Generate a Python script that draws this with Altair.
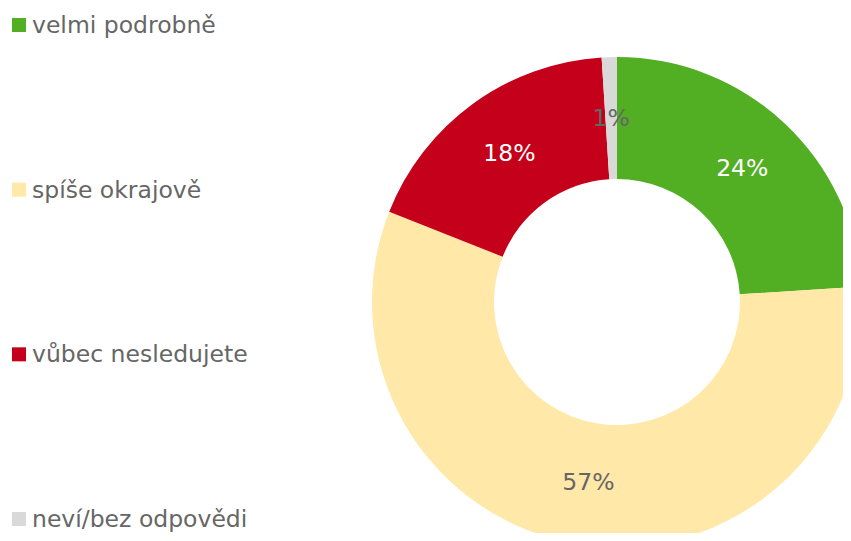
import altair as alt
import pandas as pd

categories = ["velmi podrobně", "spíše okrajově", "vůbec nesledujete", "neví/bez odpovědi"]
values = [24, 57, 18, 1]
labels = ["24%", "57%", "18%", "1%"]
order = [0, 1, 2, 3]

slice_colors = ["#52AE22", "#FFE8A8", "#C4001A", "#D9D9D9"]
label_colors = ["#FFFFFF", "#666666", "#FFFFFF", "#666666"]

df = pd.DataFrame({"cat": categories, "value": values, "label": labels, "ord": order})

FONT = "DejaVu Sans"
CX, CY = 609, 294

base = alt.Chart(df)

arcs = base.mark_arc(innerRadius=123, outerRadius=245, stroke=None).encode(
    theta=alt.Theta("value:Q", stack=True),
    order=alt.Order("ord:Q"),
    color=alt.Color("cat:N", scale=alt.Scale(domain=categories, range=slice_colors), legend=None),
    x=alt.value(CX),
    y=alt.value(CY),
)

pct = base.mark_text(radius=183, font=FONT, fontSize=23.5).encode(
    theta=alt.Theta("value:Q", stack=True),
    order=alt.Order("ord:Q"),
    text="label:N",
    color=alt.Color("cat:N", scale=alt.Scale(domain=categories, range=label_colors), legend=None),
    x=alt.value(CX),
    y=alt.value(CY),
)

ypos = alt.Y("cat:N", scale=alt.Scale(domain=categories, range=[17, 511], padding=0), axis=None)

leg_sym = base.mark_point(shape="square", size=196, filled=True, opacity=1).encode(
    x=alt.value(11),
    y=ypos,
    color=alt.Color("cat:N", scale=alt.Scale(domain=categories, range=slice_colors), legend=None),
)

leg_txt = base.mark_text(align="left", baseline="alphabetic", dy=8, font=FONT, fontSize=23.5, color="#666666").encode(
    x=alt.value(24),
    y=ypos,
    text="cat:N",
)

chart = alt.layer(arcs, pct, leg_sym, leg_txt).resolve_scale(
    color="independent", theta="independent"
).properties(
    width=835, height=525, padding=0, autosize=alt.AutoSizeParams(type="none")
).configure_view(stroke=None)

chart.save("out.html", embed_options={"renderer": "svg", "actions": False})
